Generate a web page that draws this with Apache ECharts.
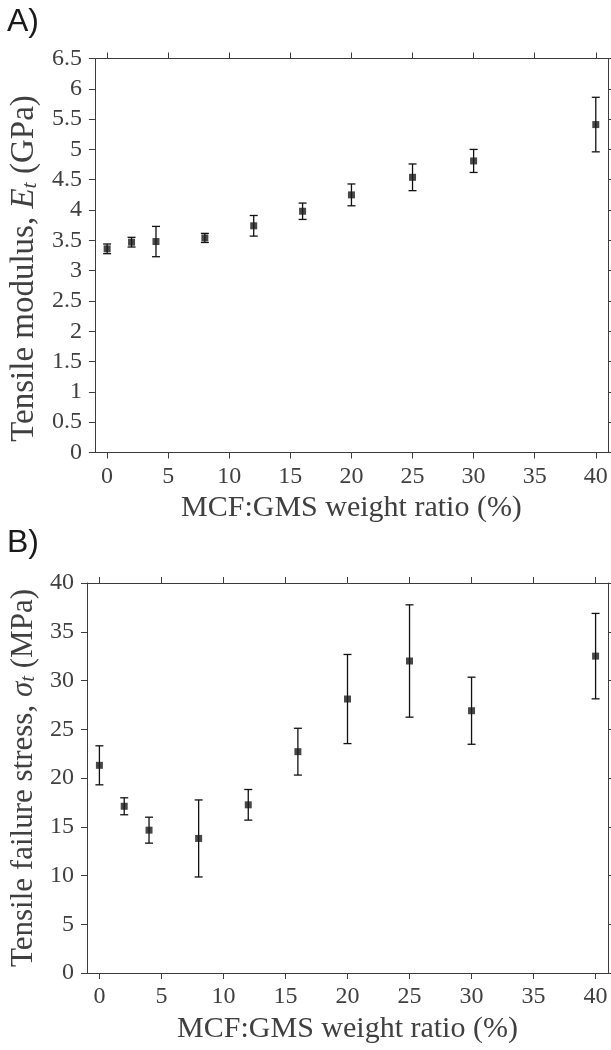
<!DOCTYPE html>
<html>
<head>
<meta charset="utf-8">
<script src="https://cdn.jsdelivr.net/npm/echarts@6/dist/echarts.min.js"></script>
<style>
html,body{margin:0;padding:0;background:#fff;}
#c{width:611px;height:1050px;}
</style>
</head>
<body>
<div id="c"></div>
<script>
// ---- data ----
const ratios = [0, 2, 4, 8, 12, 16, 20, 25, 30, 40];
const modulusMean = [3.36, 3.47, 3.48, 3.54, 3.74, 3.98, 4.25, 4.54, 4.81, 5.41];
const modulusErr  = [0.08, 0.08, 0.25, 0.075, 0.17, 0.135, 0.18, 0.22, 0.19, 0.45];
const stressMean  = [21.3, 17.1, 14.65, 13.8, 17.25, 22.7, 28.1, 32.0, 26.9, 32.5];
const stressErr   = [2.0, 0.87, 1.33, 3.95, 1.57, 2.4, 4.57, 5.76, 3.44, 4.38];
const xTicks = [0, 5, 10, 15, 20, 25, 30, 35, 40];
const panelLabels = ['A)', 'B)'];
const xTitle = 'MCF:GMS weight ratio (%)';

const SERIF = 'Liberation Serif';
const AX = '#3c3c3c';
const TXT = '#404040';

function pts(mean){ return ratios.map((x,i)=>[x, mean[i]]); }
function bars(mean, err){ return ratios.map((x,i)=>[x, mean[i]-err[i], mean[i]+err[i]]); }

function errRender(params, api){
  const x = api.value(0), lo = api.value(1), hi = api.value(2);
  const a = api.coord([x, hi]), b = api.coord([x, lo]);
  const w = 4;
  const st = {stroke:'#111', lineWidth:1.3};
  return {type:'group', children:[
    {type:'line', shape:{x1:a[0], y1:a[1], x2:b[0], y2:b[1]}, style:st},
    {type:'line', shape:{x1:a[0]-w, y1:a[1], x2:a[0]+w, y2:a[1]}, style:st},
    {type:'line', shape:{x1:b[0]-w, y1:b[1], x2:b[0]+w, y2:b[1]}, style:st}
  ]};
}

function xAxisPair(gi){
  const common = {type:'value', gridIndex:gi, min:-1, max:41, splitLine:{show:false},
    axisLine:{show:true, onZero:false, lineStyle:{color:AX, width:1}},
    axisTick:{show:true, inside:false, length:6, customValues:xTicks, lineStyle:{color:AX, width:1}}};
  return [
    Object.assign({}, common, {position:'bottom',
      axisLabel:{show:true, customValues:xTicks, margin:12, fontFamily:SERIF, fontSize:24, color:TXT},
      name:xTitle, nameLocation:'middle', nameGap:41,
      nameTextStyle:{fontFamily:SERIF, fontSize:30, color:TXT}}),
    Object.assign({}, common, {position:'top', axisLabel:{show:false}})
  ];
}

function yAxisPair(gi, max, interval, richName, fs, pad){
  const common = {type:'value', gridIndex:gi, min:0, max:max, interval:interval, splitLine:{show:false},
    axisLine:{show:true, onZero:false, lineStyle:{color:AX, width:1}},
    axisTick:{show:true, inside:false, length:6, lineStyle:{color:AX, width:1}}};
  const rich = {
    r:{fontFamily:SERIF, fontSize:fs, color:TXT},
    i:{fontFamily:SERIF, fontSize:fs, fontStyle:'italic', color:TXT},
    s:{fontFamily:SERIF, fontSize:Math.round(fs*0.68), fontStyle:'italic', color:TXT, verticalAlign:'bottom'}
  };
  return [
    Object.assign({}, common, {position:'left',
      axisLabel:{show:true, margin:13, fontFamily:SERIF, fontSize:24, color:TXT},
      name:richName, nameLocation:'middle', nameGap:48, nameRotate:90,
      nameTextStyle:{fontFamily:SERIF, fontSize:fs, color:TXT, rich:rich, padding:pad}}),
    Object.assign({}, common, {position:'right', axisLabel:{show:false}})
  ];
}

const chart = echarts.init(document.getElementById('c'), null, {renderer:'canvas'});
const xa = xAxisPair(0).concat(xAxisPair(1));
const ya = yAxisPair(0, 6.5, 0.5, '{r|Tensile modulus, }{i|E}{s|t}{r| (GPa)}', 33, [0, 26, 0, 0])
  .concat(yAxisPair(1, 40, 5, '{r|Tensile failure stress, }{i|σ}{s|t}{r| (MPa)}', 31, [0, 0, 0, 0]));

chart.setOption({
  animation:false,
  backgroundColor:'#fff',
  grid:[
    {left:85, right:3, top:58.5, height:394},
    {left:86, right:3, top:583, height:390}
  ],
  xAxis: xa,
  yAxis: ya,
  graphic:[
    {type:'text', left:7, top:6, style:{text:panelLabels[0], font:'32px "Liberation Sans", Arial, sans-serif', fill:'#1a1a1a'}},
    {type:'text', left:7, top:527, style:{text:panelLabels[1], font:'32px "Liberation Sans", Arial, sans-serif', fill:'#1a1a1a'}}
  ],
  series:[
    {type:'custom', xAxisIndex:0, yAxisIndex:0, renderItem:errRender, data:bars(modulusMean, modulusErr), z:2},
    {type:'scatter', xAxisIndex:0, yAxisIndex:0, symbol:'rect', symbolSize:7, itemStyle:{color:'#1a1a1a'}, data:pts(modulusMean), z:3},
    {type:'custom', xAxisIndex:2, yAxisIndex:2, renderItem:errRender, data:bars(stressMean, stressErr), z:2},
    {type:'scatter', xAxisIndex:2, yAxisIndex:2, symbol:'rect', symbolSize:7, itemStyle:{color:'#1a1a1a'}, data:pts(stressMean), z:3}
  ]
});
</script>
</body>
</html>
